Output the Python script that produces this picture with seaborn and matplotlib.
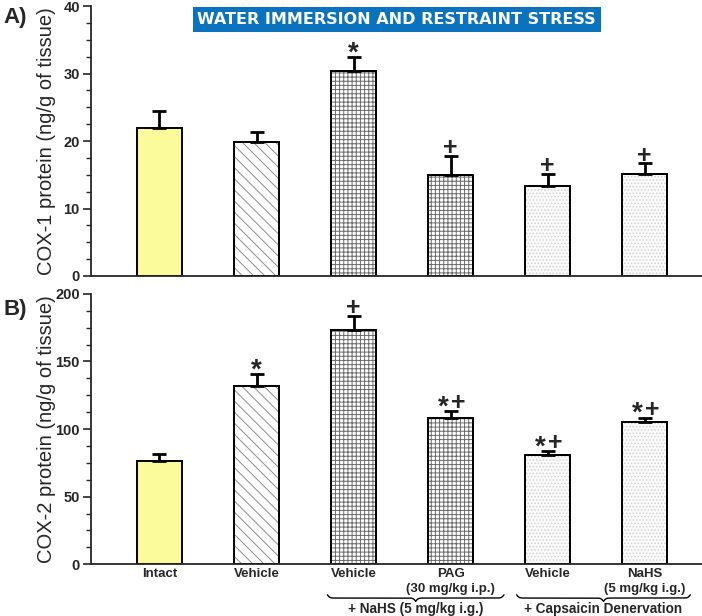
import numpy as np
import seaborn as sns
import matplotlib.pyplot as plt
import matplotlib.transforms as mtransforms

# data
groups = ['Intact', 'Vehicle', 'NaHS Vehicle', 'NaHS PAG', 'Caps Vehicle', 'Caps NaHS']
tick_labels = ['Intact', 'Vehicle', 'Vehicle', 'PAG', 'Vehicle', 'NaHS']
sub_labels = ['', '', '', '(30 mg/kg i.p.)', '', '(5 mg/kg i.g.)']

cox1_mean = [22.0, 19.9, 30.4, 15.0, 13.4, 15.1]
cox1_err = [2.5, 1.4, 2.1, 2.8, 1.7, 1.6]
cox1_marks = ['', '', '*', '+', '+', '+']

cox2_mean = [76.0, 132.0, 173.5, 108.0, 81.0, 105.3]
cox2_err = [5.4, 8.9, 10.3, 5.5, 2.9, 3.2]
cox2_marks = ['', '*', '+', '*+', '*+', '*+']

group_names = ['+ NaHS (5 mg/kg i.g.)', '+ Capsaicin Denervation']
group_spans = [(1.73, 3.55), (3.68, 5.47)]

sns.set_style('ticks')
plt.rcParams['font.family'] = ['Liberation Sans', 'DejaVu Sans']
plt.rcParams['hatch.linewidth'] = 0.7

face = ['#fbfb9c', 'white', 'white', 'white', '#fafafa', '#fafafa']
hatches = [None, '\\\\\\', '++++', '++++', '.....', '.....']
hatch_cols = [None, '#8a8a8a', '#6a6a6a', '#6a6a6a', '#d2d2d2', '#d2d2d2']


def put_mark(ax, x, y, mark):
    # star and plus drawn separately so both sit at the same height
    n = len(mark)
    for k, ch in enumerate(mark):
        dx = (k - (n - 1) / 2) * 11
        if ch == '*':
            ax.annotate('*', (x, y), xytext=(dx, -2.5), textcoords='offset points',
                        ha='center', va='baseline', fontsize=20, fontweight='bold')
        else:
            ax.annotate('+', (x, y), xytext=(dx, 0.5), textcoords='offset points',
                        ha='center', va='baseline', fontsize=18, fontweight='bold')


def draw_panel(ax, means, errs, marks, ymax, major, minor, ylabel):
    sns.barplot(x=groups, y=means, order=groups, palette=face, hue=groups,
                legend=False, saturation=1, edgecolor='black', linewidth=1.4,
                width=0.46, errorbar=None, ax=ax)
    for p, h, hc in zip(list(ax.patches), hatches, hatch_cols):
        if h is None:
            continue
        z = p.get_zorder()
        ax.add_patch(plt.Rectangle(p.get_xy(), p.get_width(), p.get_height(),
                                   facecolor='none', edgecolor=hc, hatch=h,
                                   linewidth=0, zorder=z + 0.1))
        ax.add_patch(plt.Rectangle(p.get_xy(), p.get_width(), p.get_height(),
                                   facecolor='none', edgecolor='black',
                                   linewidth=1.4, zorder=z + 0.2))
    x = np.arange(len(groups))
    ax.errorbar(x, means, yerr=[np.zeros(len(errs)), errs], fmt='none',
                ecolor='black', elinewidth=2, capsize=5, capthick=2, zorder=5)
    for xi, m, e, mk in zip(x, means, errs, marks):
        if mk:
            put_mark(ax, xi, m + e, mk)
    ax.set_xlim(-0.706, 5.59)
    ax.set_ylim(0, ymax)
    ax.set_yticks(np.arange(0, ymax + 0.1, major))
    ax.set_yticks(np.arange(0, ymax + 0.1, minor), minor=True)
    ax.tick_params(axis='y', which='major', length=6, width=1.2, direction='out',
                   labelsize=10.5, pad=2)
    ax.tick_params(axis='y', which='minor', length=3.5, width=1, direction='out')
    ax.tick_params(axis='x', length=0)
    for lab in ax.get_yticklabels():
        lab.set_fontweight('bold')
    sns.despine(ax=ax)
    for s in ['left', 'bottom']:
        ax.spines[s].set_linewidth(1.3)
    ax.set_ylabel(ylabel, fontsize=14.5)
    ax.yaxis.set_label_coords(-0.058, 0.5)


def brace(ax, x0, x1, y, h):
    trans = mtransforms.blended_transform_factory(ax.transData, ax.transAxes)
    xs = np.linspace(x0, x1, 401)
    half = xs[:201]
    beta = 80.0
    yh = (1 / (1 + np.exp(-beta * (half - half[0])))
          + 1 / (1 + np.exp(-beta * (half - half[-1]))))
    ys = np.concatenate((yh, yh[-2::-1]))
    ax.plot(xs, y - (ys - 0.5) * h, color='black', lw=1, transform=trans,
            clip_on=False)


fig = plt.figure(figsize=(7.02, 6.16), dpi=100)
ax1 = fig.add_axes([0.1296, 0.552, 0.8704, 0.438])
ax2 = fig.add_axes([0.1296, 0.084, 0.8704, 0.439])

draw_panel(ax1, cox1_mean, cox1_err, cox1_marks, 40, 10, 2.5,
           'COX-1 protein (ng/g of tissue)')
ax1.set_xticks(range(len(groups)))
ax1.set_xticklabels([''] * len(groups))

draw_panel(ax2, cox2_mean, cox2_err, cox2_marks, 200, 50, 12.5,
           'COX-2 protein (ng/g of tissue)')
ax2.set_xticks(range(len(groups)))
ax2.set_xticklabels(tick_labels, fontsize=9.5, fontweight='bold')
ax2.tick_params(axis='x', pad=3)

tr = mtransforms.blended_transform_factory(ax2.transData, ax2.transAxes)
for i, s in enumerate(sub_labels):
    if s:
        ax2.text(i, -0.092, s, transform=tr, ha='center', va='center',
                 fontsize=9.5, fontweight='bold')
for (a, b), name in zip(group_spans, group_names):
    brace(ax2, a, b, -0.113, 0.024)
    ax2.text((a + b) / 2, -0.165, name, transform=tr, ha='center', va='center',
             fontsize=9.8, fontweight='bold')

fig.text(0.005, 0.972, 'A)', fontsize=16, fontweight='bold', va='center')
fig.text(0.005, 0.497, 'B)', fontsize=16, fontweight='bold', va='center')
fig.text(0.565, 0.968, 'WATER IMMERSION AND RESTRAINT STRESS', color='white',
         fontsize=11.5, fontweight='bold', ha='center', va='center',
         family='DejaVu Sans',
         bbox=dict(boxstyle='square,pad=0.3', fc='#0b72bd', ec='none'))

fig.savefig('out.png', dpi=100)
